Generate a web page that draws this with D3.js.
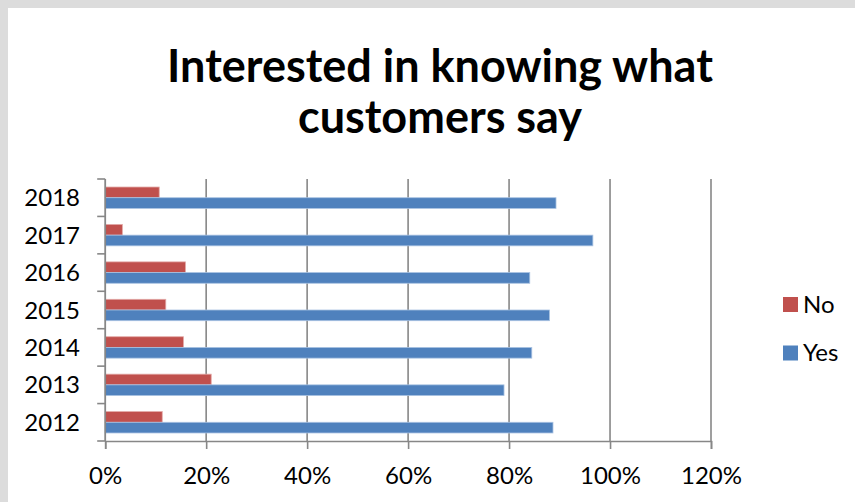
<!DOCTYPE html>
<html>
<head>
<meta charset="utf-8">
<script src="https://cdn.jsdelivr.net/npm/d3@7"></script>
<style>
  html, body { margin: 0; padding: 0; background: #dcdcdc; }
  svg { display: block; }
  text { font-family: Lato, "Noto Sans", sans-serif; fill: #000; }
</style>
</head>
<body>
<svg id="chart" width="855" height="502"></svg>
<script>
// Survey results per year (share of respondents)
const years = ["2012", "2013", "2014", "2015", "2016", "2017", "2018"];
const noValues  = [0.113, 0.210, 0.155, 0.120, 0.159, 0.034, 0.107];
const yesValues = [0.887, 0.790, 0.845, 0.880, 0.841, 0.966, 0.893];
const seriesNames = ["No", "Yes"];
const xTicks = [0, 0.2, 0.4, 0.6, 0.8, 1.0, 1.2];
const titleLines = ["Interested in knowing what", "customers say"];

const colors = { No: "#C0504D", Yes: "#4F81BD" };
const edge = { No: "#e3a9a7", Yes: "#a9c2e2" };
const gridColor = "#878787";
const labelSize = "24px";

const svg = d3.select("#chart");

// white chart panel inside the grey frame
svg.append("rect").attr("x", 8).attr("y", 8).attr("width", 847).attr("height", 494).attr("fill", "#fff");

const plotLeft = 105.2, plotRight = 711, plotTop = 179, plotBottom = 441;

const x = d3.scaleLinear().domain([0, 1.2]).range([plotLeft, plotRight]);
const y = d3.scaleBand().domain(years.slice().reverse()).range([plotTop, plotBottom]).paddingInner(0).paddingOuter(0);
// two bars per year, Excel-style 150% gap
const sub = d3.scaleBand().domain(seriesNames).range([0, y.bandwidth()]).paddingInner(0).paddingOuter(0.75);

const rows = years.map((yr, i) => ({ year: yr, No: noValues[i], Yes: yesValues[i] }));

// vertical gridlines
svg.append("g").selectAll("line").data(xTicks.slice(1)).join("line")
  .attr("x1", d => x(d)).attr("x2", d => x(d))
  .attr("y1", plotTop).attr("y2", plotBottom)
  .attr("stroke", gridColor).attr("stroke-width", 1.6);

// bars
const groups = svg.append("g").selectAll("g").data(rows).join("g")
  .attr("transform", d => `translate(0,${y(d.year)})`);
groups.selectAll("rect").data(d => seriesNames.map(s => ({ s, v: d[s] }))).join("rect")
  .attr("x", x(0))
  .attr("y", d => sub(d.s))
  .attr("width", d => x(d.v) - x(0))
  .attr("height", sub.bandwidth())
  .attr("fill", d => colors[d.s])
  .attr("stroke", d => edge[d.s])
  .attr("stroke-width", 0.8);

// x axis
const xAxis = d3.axisBottom(x).tickValues(xTicks).tickFormat(d3.format(".0%")).tickSize(8).tickPadding(0);
const gx = svg.append("g").attr("transform", `translate(0,${plotBottom})`).call(xAxis);
gx.select(".domain").attr("stroke", gridColor).attr("stroke-width", 1.6);
gx.selectAll(".tick line").attr("stroke", gridColor).attr("stroke-width", 1.6);
gx.selectAll(".tick text")
  .attr("y", 42.5).attr("dy", null)
  .style("font-size", labelSize).style("font-family", "Lato, sans-serif").attr("fill", "#000");

// y axis: ticks on category boundaries
const gy = svg.append("g");
gy.append("line").attr("x1", plotLeft).attr("x2", plotLeft).attr("y1", plotTop).attr("y2", plotBottom)
  .attr("stroke", gridColor).attr("stroke-width", 1.8);
const boundaries = years.map(yr => y(yr)).concat([plotBottom]);
gy.selectAll("line.tk").data(boundaries).join("line").attr("class", "tk")
  .attr("x1", plotLeft - 8).attr("x2", plotLeft).attr("y1", d => d).attr("y2", d => d)
  .attr("stroke", gridColor).attr("stroke-width", 1.6);
gy.selectAll("text").data(years).join("text")
  .attr("x", 80).attr("y", d => y(d) + y.bandwidth() / 2 + 8.5)
  .attr("text-anchor", "end").style("font-size", labelSize).text(d => d);

// title
const title = svg.append("g");
title.selectAll("text").data(titleLines).join("text")
  .attr("x", 440).attr("y", (d, i) => 82 + i * 51)
  .attr("text-anchor", "middle")
  .style("font-size", "45px").style("font-weight", "bold").text(d => d);

// legend
const legend = svg.append("g").selectAll("g").data(seriesNames).join("g")
  .attr("transform", (d, i) => `translate(783,${297 + i * 48.5})`);
legend.append("rect").attr("width", 15).attr("height", 15).attr("fill", d => colors[d]);
legend.append("text").attr("x", 20).attr("y", 15.5).style("font-size", labelSize).text(d => d);
</script>
</body>
</html>
